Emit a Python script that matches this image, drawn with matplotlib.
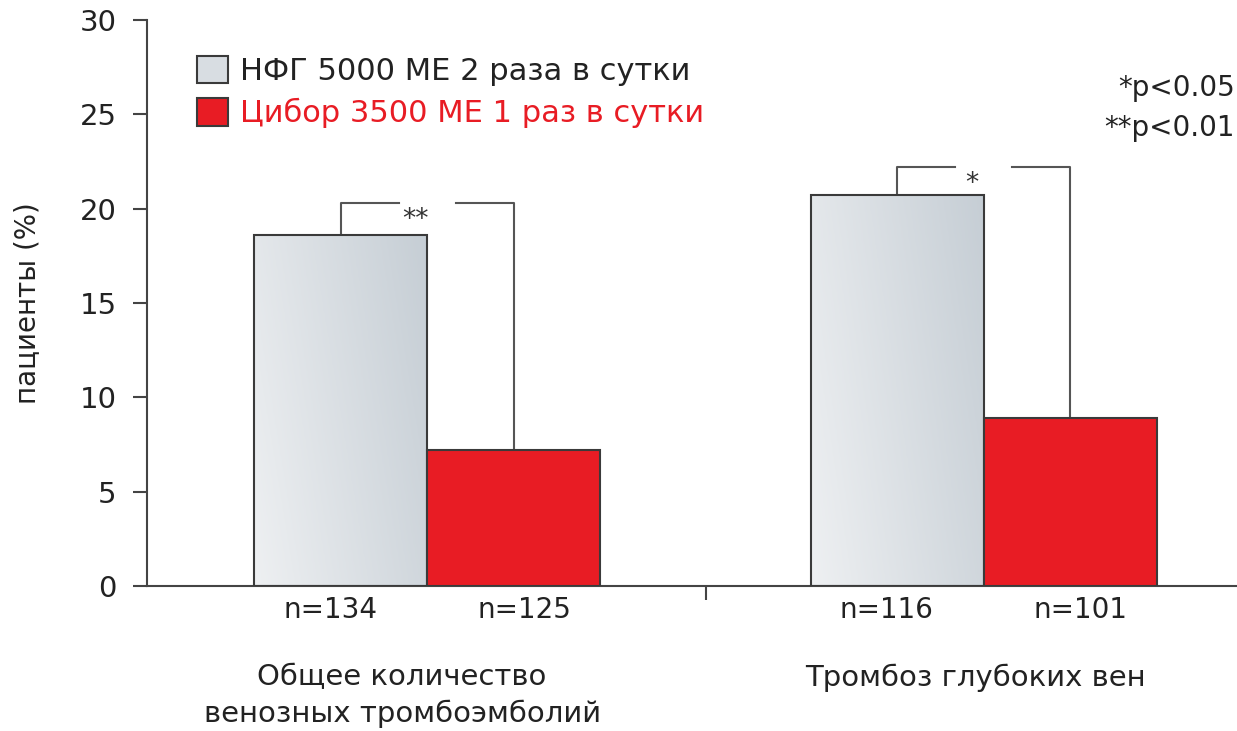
import numpy as np
import matplotlib
matplotlib.use("Agg")
import matplotlib.pyplot as plt
from matplotlib.colors import LinearSegmentedColormap
from matplotlib.patches import Patch

plt.rcParams['font.family'] = ['DejaVu Sans']

groups = ["Общее количество\nвенозных тромбоэмболий", "Тромбоз глубоких вен"]
series_names = ["НФГ 5000 МЕ 2 раза в сутки", "Цибор 3500 МЕ 1 раз в сутки"]
ufh = [18.6, 20.7]
cibor = [7.2, 8.9]
n_ufh = [134, 116]
n_cibor = [125, 101]
signif = ["**", "*"]
bracket_top = [20.3, 22.2]
p_notes = ["*p<0.05", "**p<0.01"]

red = "#e81c24"
edge = "#3a3a3a"
line_col = "#555555"
txt = "#222222"

fig = plt.figure(figsize=(12.37, 7.31), dpi=100)
ax = fig.add_axes([0.119, 0.1984, 0.881, 0.7742])

centers = np.array([1.62, 4.835])
w = 1.0
x_ufh = centers - w / 2
x_cib = centers + w / 2

grad = LinearSegmentedColormap.from_list("g", ["#eef0f2", "#c6ced5"])
bars_u = ax.bar(x_ufh, ufh, width=w, color="none", edgecolor=edge, linewidth=1.5, zorder=3)
for b in bars_u:
    x0, y0 = b.get_x(), b.get_y()
    gx, gy = np.meshgrid(np.linspace(0, 1, 100), np.linspace(0, 1, 100))
    img = 0.75 * gx + 0.25 * gy
    im = ax.imshow(img, cmap=grad, extent=[x0, x0 + b.get_width(), y0, y0 + b.get_height()],
                   origin="lower", aspect="auto", zorder=2)
    im.set_clip_path(b)
ax.bar(x_cib, cibor, width=w, color=red, edgecolor=edge, linewidth=1.5, zorder=3)

# significance brackets
gap = 0.165
for i in range(len(groups)):
    yb = bracket_top[i]
    ax.plot([x_ufh[i], x_ufh[i], centers[i] - gap], [ufh[i], yb, yb], color=line_col, lw=1.5, zorder=1)
    ax.plot([centers[i] + gap, x_cib[i], x_cib[i]], [yb, yb, cibor[i]], color=line_col, lw=1.5, zorder=1)
    ax.text(centers[i] - 0.07, yb - 0.9, signif[i], ha="center", va="center", fontsize=19, color="#333333")

# n labels and group labels
for i in range(len(groups)):
    ax.text(x_ufh[i] - 0.06, -1.3, "n=%d" % n_ufh[i], ha="center", va="center", fontsize=20,
            color=txt, clip_on=False)
    ax.text(x_cib[i] + 0.06, -1.3, "n=%d" % n_cibor[i], ha="center", va="center", fontsize=20,
            color=txt, clip_on=False)
ax.text(1.474, -5.8, groups[0], ha="center", va="center", fontsize=21,
        linespacing=1.35, clip_on=False, color=txt)
ax.text(4.79, -4.85, groups[1], ha="center", va="center", fontsize=21,
        clip_on=False, color=txt)

ax.set_xlim(0, 6.3)
ax.set_ylim(0, 30)
ax.set_yticks(range(0, 31, 5))
ax.set_xticks([3.23])
ax.set_xticklabels([""])
ax.tick_params(axis="y", direction="out", length=10, width=1.5, pad=12, labelsize=21,
               colors="#444444", labelcolor=txt)
ax.tick_params(axis="x", direction="out", length=10, width=1.5, colors="#444444")
for s in ["top", "right"]:
    ax.spines[s].set_visible(False)
for s in ["left", "bottom"]:
    ax.spines[s].set_linewidth(1.5)
    ax.spines[s].set_color("#444444")
ax.set_ylabel("пациенты (%)", fontsize=20, color=txt)
ax.yaxis.set_label_coords(-0.097, 0.5)

# legend
handles = [Patch(facecolor="#d8dde2", edgecolor=edge, linewidth=1.5),
           Patch(facecolor=red, edgecolor=edge, linewidth=1.5)]
leg = ax.legend(handles, series_names, loc="upper left", bbox_to_anchor=(0.046, 0.937),
                frameon=False, fontsize=22, handlelength=1.0, handleheight=1.0,
                handletextpad=0.4, labelspacing=0.4, borderpad=0, borderaxespad=0)
leg.get_texts()[0].set_color(txt)
leg.get_texts()[1].set_color(red)

for k, t in enumerate(p_notes):
    fig.text(0.998, 0.88 - k * 0.055, t, ha="right", va="center", fontsize=20, color=txt)

fig.savefig("out.png", dpi=100)
